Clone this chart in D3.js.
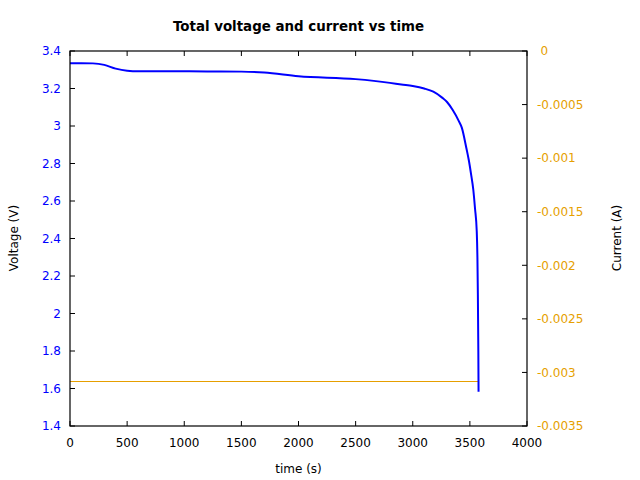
<!DOCTYPE html>
<html><head><meta charset="utf-8">
<script src="https://cdn.jsdelivr.net/npm/d3@7/dist/d3.min.js"></script>
<style>body{margin:0;background:#fff}text{font-family:"DejaVu Sans",sans-serif}</style>
</head><body><svg id="c" width="640" height="480"></svg>
<script>
const timeS = [0,100,200,300,400,500,600,800,1000,1200,1500,1700,2000,2500,2800,2900,3000,3100,3180,3260,3300,3350,3400,3430,3470,3490,3510,3530,3545,3560,3566,3570,3574,3576];
const voltage = [3.335,3.335,3.334,3.326,3.306,3.295,3.292,3.292,3.292,3.291,3.290,3.285,3.265,3.250,3.230,3.221,3.213,3.200,3.183,3.150,3.128,3.085,3.030,2.990,2.880,2.820,2.745,2.660,2.560,2.440,2.300,2.100,1.800,1.583];
const currentTime = [0,3576];
const currentA = [-0.00308,-0.00308];
const xTicks = [0,500,1000,1500,2000,2500,3000,3500,4000];
const vTicks = [1.4,1.6,1.8,2,2.2,2.4,2.6,2.8,3,3.2,3.4];
const iTicks = [0,-0.0005,-0.001,-0.0015,-0.002,-0.0025,-0.003,-0.0035];

const svg = d3.select("#c");
const L=70,R=527,T=51,B=426;
const x = d3.scaleLinear().domain([0,4000]).range([L,R]);
const yV = d3.scaleLinear().domain([1.4,3.4]).range([B,T]);
const yI = d3.scaleLinear().domain([-0.0035,0]).range([B,T]);
const blue="#0000ff", orange="#e69f00", tl=5;

// series
svg.append("path").datum(currentTime.map((t,i)=>[t,currentA[i]]))
  .attr("fill","none").attr("stroke",orange).attr("stroke-width",1).attr("shape-rendering","crispEdges")
  .attr("d",d3.line().x(d=>x(d[0])).y(d=>yI(d[1])));
svg.append("path").datum(timeS.map((t,i)=>[t,voltage[i]]))
  .attr("fill","none").attr("stroke",blue).attr("stroke-width",2)
  .attr("d",d3.line().curve(d3.curveMonotoneX).x(d=>x(d[0])).y(d=>yV(d[1])));

// frame
svg.append("rect").attr("x",L).attr("y",T).attr("width",R-L).attr("height",B-T)
  .attr("fill","none").attr("stroke","#000").attr("stroke-width",1.2);

const g = svg.append("g").attr("stroke","#000").attr("stroke-width",1);
xTicks.forEach(t=>{
  g.append("line").attr("x1",x(t)).attr("x2",x(t)).attr("y1",B).attr("y2",B-tl);
  g.append("line").attr("x1",x(t)).attr("x2",x(t)).attr("y1",T).attr("y2",T+tl);
});
vTicks.forEach(v=>g.append("line").attr("x1",L).attr("x2",L+tl).attr("y1",yV(v)).attr("y2",yV(v)));
iTicks.forEach(v=>g.append("line").attr("x1",R).attr("x2",R-tl).attr("y1",yI(v)).attr("y2",yI(v)));

svg.selectAll(".xl").data(xTicks).enter().append("text")
  .attr("x",d=>x(d)).attr("y",447).attr("text-anchor","middle").attr("font-size",12).attr("fill","#000")
  .text(d=>d);
svg.selectAll(".vl").data(vTicks).enter().append("text")
  .attr("x",61).attr("y",d=>yV(d)).attr("dy","0.36em").attr("text-anchor","end").attr("font-size",12).attr("fill",blue)
  .text(d=>String(d));
svg.selectAll(".il").data(iTicks).enter().append("text")
  .attr("x",d=>d===0?540.5:537).attr("y",d=>yI(d)).attr("dy","0.36em").attr("text-anchor","start").attr("font-size",12).attr("fill",orange)
  .text(d=>d===0?"0":"-"+String(Math.abs(d)));

svg.append("text").attr("x",298.5).attr("y",31).attr("text-anchor","middle")
  .attr("font-size",13.4).attr("font-weight","bold").text("Total voltage and current vs time");
svg.append("text").attr("x",298.5).attr("y",473).attr("text-anchor","middle").attr("font-size",12).text("time (s)");
svg.append("text").attr("transform","translate(18,238) rotate(-90)").attr("text-anchor","middle").attr("font-size",12).text("Voltage (V)");
svg.append("text").attr("transform","translate(621,238) rotate(-90)").attr("text-anchor","middle").attr("font-size",12).text("Current (A)");
</script></body></html>
